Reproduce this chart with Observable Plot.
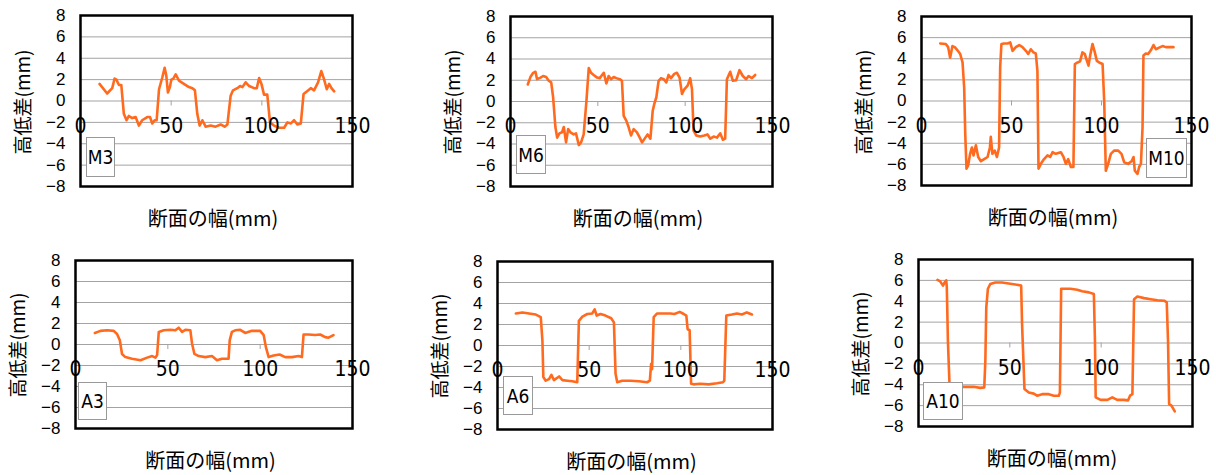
<!DOCTYPE html>
<html><head><meta charset="utf-8">
<script src="https://cdn.jsdelivr.net/npm/d3@7"></script>
<script src="https://cdn.jsdelivr.net/npm/@observablehq/plot@0.6"></script>
<style>
html,body{margin:0;padding:0;background:#fff;overflow:hidden}
#c{position:relative;width:1216px;height:475px;overflow:hidden;background:#fff}
.p{position:absolute}
.xl{position:absolute;font-family:"Noto Sans CJK JP",sans-serif;font-size:20px;line-height:24px;white-space:nowrap;transform:translate(-50%,-50%);color:#000}
.yl{position:absolute;font-family:"Noto Sans CJK JP",sans-serif;font-size:19px;line-height:22px;white-space:nowrap;transform:translate(-50%,-50%) rotate(-90deg);color:#000}
.bx{position:absolute;border:1px solid #999;background:#fff;box-sizing:border-box;display:flex;align-items:center;justify-content:center;font-family:"Liberation Sans Narrow","DejaVu Sans Condensed",sans-serif;font-size:19px;color:#000}
</style></head>
<body><div id="c"></div>
<script>
const xTicks = [0, 50, 100, 150];
const yTicks = [-8, -6, -4, -2, 0, 2, 4, 6, 8];
const gridTicks = [-6, -4, -2, 0, 2, 4, 6];
const xLabel = "断面の幅(mm)";
const yLabel = "高低差(mm)";
const names = ["M3", "M6", "M10", "A3", "A6", "A10"];

const M3 = [[10.5,1.6],[14.7,0.7],[17.5,1.2],[18.8,2.1],[19.8,2.0],[21.2,1.5],[22.5,1.5],[23.9,-1.2],[25.4,-1.8],[26.7,-1.4],[28.5,-1.6],[30.4,-1.5],[32.2,-2.3],[34,-1.8],[36.8,-1.5],[38.3,-1.5],[39.6,-2.1],[40.9,-1.8],[42,-1.8],[43.3,1.1],[45.1,2.2],[46.4,3.1],[47.3,2.4],[48.2,0.8],[49.3,1.3],[50.1,2.0],[51.2,2.1],[52.5,2.5],[54.3,1.9],[57,1.6],[59.8,1.3],[61.7,1.2],[63.1,1.0],[64.4,-1.2],[65.7,-2.3],[67.2,-1.8],[69,-2.4],[71.8,-2.3],[74.5,-2.4],[77.3,-2.2],[79.5,-2.4],[81,-2.2],[82.8,0.5],[84.1,1.0],[86.5,1.2],[88,1.4],[89.3,1.3],[91.1,1.75],[93,1.4],[95.7,1.2],[97.2,1.2],[98.5,2.15],[99.8,1.6],[101.2,0.6],[103,0.6],[104.5,-2.0],[106.7,-2.3],[109.5,-2.5],[112.3,-2.5],[114.1,-2.0],[116,-2.1],[117.8,-1.8],[119.6,-2.2],[121.5,-2.1],[123,0.65],[124.8,0.9],[127,1.2],[128.8,1.0],[131,1.75],[132.8,2.8],[134.3,2.05],[135.8,1.1],[137.1,1.6],[138.4,1.2],[139.9,0.9]];

const M6 = [[9.9,1.6],[11.4,2.3],[13,2.7],[14.3,2.8],[15.2,2.1],[17.2,2.25],[18.7,2.4],[20.4,2.3],[21.9,1.95],[23.3,1.8],[24.4,0.4],[25.7,-2.4],[26.7,-3.4],[28,-3.0],[29.5,-2.9],[30.5,-2.4],[31.8,-3.85],[33,-2.6],[34.3,-2.9],[36.2,-3.1],[37.5,-3.0],[39.1,-4.1],[40.4,-3.85],[41.9,-3.1],[43.5,0.1],[44.8,3.15],[46.1,2.7],[47.6,2.5],[49.6,2.25],[51.1,2.2],[52,2.4],[53.4,2.7],[54.9,1.7],[56.2,2.4],[57.6,2.1],[59.1,2.3],[60.6,2.2],[62.5,2.1],[63.8,1.95],[64.8,-1.35],[66.3,-1.8],[67.7,-2.45],[69,-3.2],[70.5,-2.6],[72.4,-2.9],[74,-3.4],[75.3,-3.85],[77.2,-3.4],[78.5,-3.1],[80.1,-3.5],[81.4,-0.9],[82.3,-0.25],[83.5,0.4],[84.8,1.95],[86.2,2.2],[87.7,2.1],[89.2,1.8],[90.5,2.5],[91.9,2.2],[93.8,2.6],[95.3,2.7],[96.8,2.25],[98.2,0.7],[99.5,1.15],[101.4,1.5],[102.9,2.2],[103.9,1.15],[104.8,-2.75],[106.4,-3.2],[108.6,-3.3],[110.9,-3.2],[112.8,-3.1],[114.4,-3.5],[116.3,-3.3],[118.2,-3.4],[120.1,-3.0],[121.6,-3.6],[122.9,-3.5],[123.9,2.1],[125.8,2.8],[127.3,1.95],[129.2,2.0],[131.1,2.95],[133,2.4],[134.9,2.1],[136.3,2.4],[138.2,2.2],[140.1,2.5]];

const M10 = [[10.4,5.45],[13.5,5.4],[14.8,5.1],[15.9,4.1],[17.2,5.2],[18.5,5.1],[20,4.8],[21.5,4.45],[22.8,3.65],[23.7,1.3],[24.3,-3.1],[25,-6.4],[25.9,-6.1],[27,-5.0],[28,-4.4],[28.9,-5.15],[30.2,-4.2],[31.5,-5.3],[33,-5.7],[34.8,-5.5],[36.7,-5.3],[38,-4.4],[38.5,-3.4],[39.4,-5.0],[40.7,-4.7],[41.9,-5.3],[43.1,-4.4],[43.7,3.2],[44.4,5.4],[45.9,5.45],[47.8,5.45],[49.3,5.55],[50.6,4.75],[52.4,5.1],[54.3,5.3],[56.1,5.1],[58,4.75],[59.3,4.45],[60.7,4.9],[62.2,4.6],[63.5,4.5],[64.4,2.85],[65,-6.4],[66.3,-5.95],[68.1,-5.5],[70,-5.15],[71.5,-5.3],[72.8,-4.85],[74.6,-5.0],[77.4,-4.85],[78.9,-5.3],[80.2,-5.95],[81.5,-5.5],[83,-6.25],[84.4,-6.25],[85.2,3.5],[86.7,3.65],[88.1,3.75],[89.4,4.6],[90.7,4.45],[91.9,3.8],[92.8,3.35],[93.7,4.3],[95,5.4],[96.3,4.6],[97.4,3.8],[98.7,3.65],[100.6,3.5],[101.5,0],[102.4,-6.6],[103.7,-5.95],[105.2,-5.0],[107,-4.7],[109.3,-4.7],[111.1,-5.0],[112.6,-5.8],[114.8,-5.95],[116.7,-5.7],[117.8,-5.3],[118.5,-6.6],[120,-6.9],[120.9,-6.25],[121.9,-5.95],[122.8,-2.5],[123.3,4.3],[124.6,4.5],[125.9,4.45],[127.4,4.8],[128.9,5.3],[130.2,4.9],[132,5.05],[133.9,5.2],[135.7,5.1],[137.6,5.1],[140,5.1]];

const A3 = [[10.5,1.1],[13.5,1.3],[17.1,1.35],[20.7,1.3],[22.5,1.0],[24,0.4],[25.2,-0.9],[27,-1.2],[30.6,-1.35],[35.2,-1.5],[38.8,-1.25],[41.5,-1.1],[43.3,-1.25],[44.2,-1.0],[45.1,1.2],[47.8,1.35],[51.4,1.4],[54.1,1.35],[55.9,1.6],[57.7,1.2],[59.5,1.4],[62.2,1.35],[63.1,0.1],[64.4,-0.9],[66.7,-1.1],[70.3,-1.2],[73.9,-1.1],[76.6,-1.5],[79.3,-1.35],[82.9,-1.35],[83.5,0.4],[84.7,1.2],[86.5,1.35],[89.2,1.4],[91.9,1.1],[95.5,1.3],[100,1.3],[101.9,0.9],[103.1,-0.25],[104.6,-1.2],[107.3,-1.05],[110.5,-0.95],[113.6,-1.2],[117.2,-1.2],[120.8,-1.1],[122.6,-1.2],[123.5,0.95],[126.2,0.95],[129.8,0.9],[132.5,0.95],[135.2,0.7],[137,0.65],[139.7,0.9]];

const A6 = [[10,3.05],[13.6,3.15],[17.2,3.05],[20.9,2.95],[23.6,2.7],[24.5,0.45],[25,-3.0],[26.3,-3.35],[28.1,-3.2],[29.4,-2.8],[30.8,-3.3],[33.6,-2.95],[35.4,-3.3],[38.1,-3.35],[40.8,-3.4],[43.5,-3.5],[44.4,2.35],[46.3,2.75],[49,3.0],[51.7,3.05],[53,3.45],[54.1,2.85],[56.2,3.0],[58.9,2.85],[62,2.6],[63.5,2.2],[64.4,-2.7],[65.3,-3.5],[68,-3.35],[72.6,-3.35],[77.1,-3.4],[81.6,-3.5],[83.1,-3.35],[83.8,-1.75],[84.3,-2.25],[85.2,2.7],[87.1,3.05],[90.7,3.05],[94.3,3.05],[96.5,3.0],[99.4,3.2],[101.6,3.0],[103,2.85],[103.7,1.55],[104.8,1.45],[105.6,-3.65],[107,-3.7],[110.6,-3.65],[115.2,-3.7],[119.7,-3.6],[123,-3.5],[123.7,-3.35],[124.8,2.85],[127.9,2.95],[130.6,3.05],[133.3,2.95],[136,3.15],[138.8,2.95]];

const A10 = [[10.4,6.05],[11.9,5.9],[13.4,5.5],[14.3,5.8],[15.2,6.0],[15.5,5.35],[16.1,0.2],[17,-4.1],[19.2,-4.2],[24.7,-4.2],[30.2,-4.2],[33.8,-4.3],[36,-4.25],[36.6,-1.7],[37.1,3.4],[38,5.2],[39.3,5.65],[42.1,5.8],[45.7,5.8],[49.4,5.7],[53,5.6],[56.2,5.5],[56.7,1.8],[58,-4.4],[60.4,-4.75],[63.1,-4.85],[64.9,-5.05],[67.7,-4.9],[71.3,-4.9],[74.1,-5.05],[76.8,-5.05],[77.4,-4.75],[78.1,5.2],[79.6,5.2],[83.2,5.2],[86.9,5.1],[89.6,4.95],[93.3,4.85],[96,4.7],[96.6,0.2],[97,-5.2],[99.7,-5.45],[103.4,-5.45],[106.1,-5.2],[108.8,-5.45],[112.5,-5.45],[114.7,-5.5],[115.8,-5.05],[117.1,-4.9],[118,4.2],[119.8,4.45],[123.5,4.3],[127.1,4.2],[130.8,4.1],[134.5,4.05],[135.9,3.9],[136.6,0.2],[137.2,-5.85],[138.5,-6.0],[140.3,-6.55]];

const series = [M3, M6, M10, A3, A6, A10];

// layout: frame [left, right, top, bottom] in page px, label box [left, top, w, h]
const layout = [
  {frame: [80, 352, 15, 186],  box: [86, 137, 29, 40]},
  {frame: [510, 772, 16, 186], box: [516, 135, 30, 39]},
  {frame: [921, 1191, 16, 185], box: [1146, 138, 41, 40]},
  {frame: [75, 352, 260, 428], box: [78, 382, 29, 38]},
  {frame: [497, 772, 261, 429], box: [503, 376, 30, 39]},
  {frame: [918, 1192, 259, 426], box: [923, 382, 40, 38]}
];

const yFont = '"Liberation Sans",Arial,sans-serif';
const xFont = '"Liberation Sans Narrow","DejaVu Sans Condensed",sans-serif';
const lineColor = "#ff6a1f";
const c = document.getElementById("c");

series.forEach((data, i) => {
  const [L, R, T, B] = layout[i].frame;
  const mL = 80, mT = 15, mR = 22, mB = 10;
  const chart = Plot.plot({
    width: R - L + mL + mR,
    height: B - T + mT + mB,
    marginLeft: mL, marginTop: mT, marginRight: mR, marginBottom: mB,
    x: {domain: [0, 150], axis: null},
    y: {domain: [-8, 8]},
    style: {fontFamily: yFont, background: "transparent", overflow: "visible"},
    marks: [
      Plot.ruleY(gridTicks, {stroke: "#a3a3a3", strokeWidth: 1}),
      Plot.ruleX(xTicks, {x: d => d, y1: 0, y2: 0, insetBottom: -5, stroke: "#a3a3a3", strokeWidth: 1}),
      Plot.line(data, {x: d => d[0], y: d => d[1], stroke: lineColor, strokeWidth: 2.6, strokeLinejoin: "round"}),
      Plot.frame({stroke: "#000", strokeWidth: 2.5}),
      Plot.axisY(yTicks, {anchor: "left", tickSize: 0, tickPadding: 15, fontSize: 17, label: null, fill: "#000"}),
      Plot.text(xTicks, {x: d => d, y: 0, dy: 25, text: d => String(d), fontSize: 21, fontFamily: xFont, fill: "#000"})
    ]
  });
  const wrap = document.createElement("div");
  wrap.className = "p";
  wrap.style.left = (L - mL) + "px";
  wrap.style.top = (T - mT) + "px";
  wrap.appendChild(chart);
  c.appendChild(wrap);

  const xl = document.createElement("div");
  xl.className = "xl";
  xl.textContent = xLabel;
  xl.style.left = ((L + R) / 2 - 3) + "px";
  xl.style.top = (B + 32) + "px";
  c.appendChild(xl);

  const yl = document.createElement("div");
  yl.className = "yl";
  yl.textContent = yLabel;
  yl.style.left = (L - 58) + "px";
  yl.style.top = ((T + B) / 2 + 1) + "px";
  c.appendChild(yl);

  const [bx, by, bw, bh] = layout[i].box;
  const b = document.createElement("div");
  b.className = "bx";
  b.style.left = bx + "px"; b.style.top = by + "px";
  b.style.width = bw + "px"; b.style.height = bh + "px";
  b.textContent = names[i];
  c.appendChild(b);
});
</script>
</body></html>
